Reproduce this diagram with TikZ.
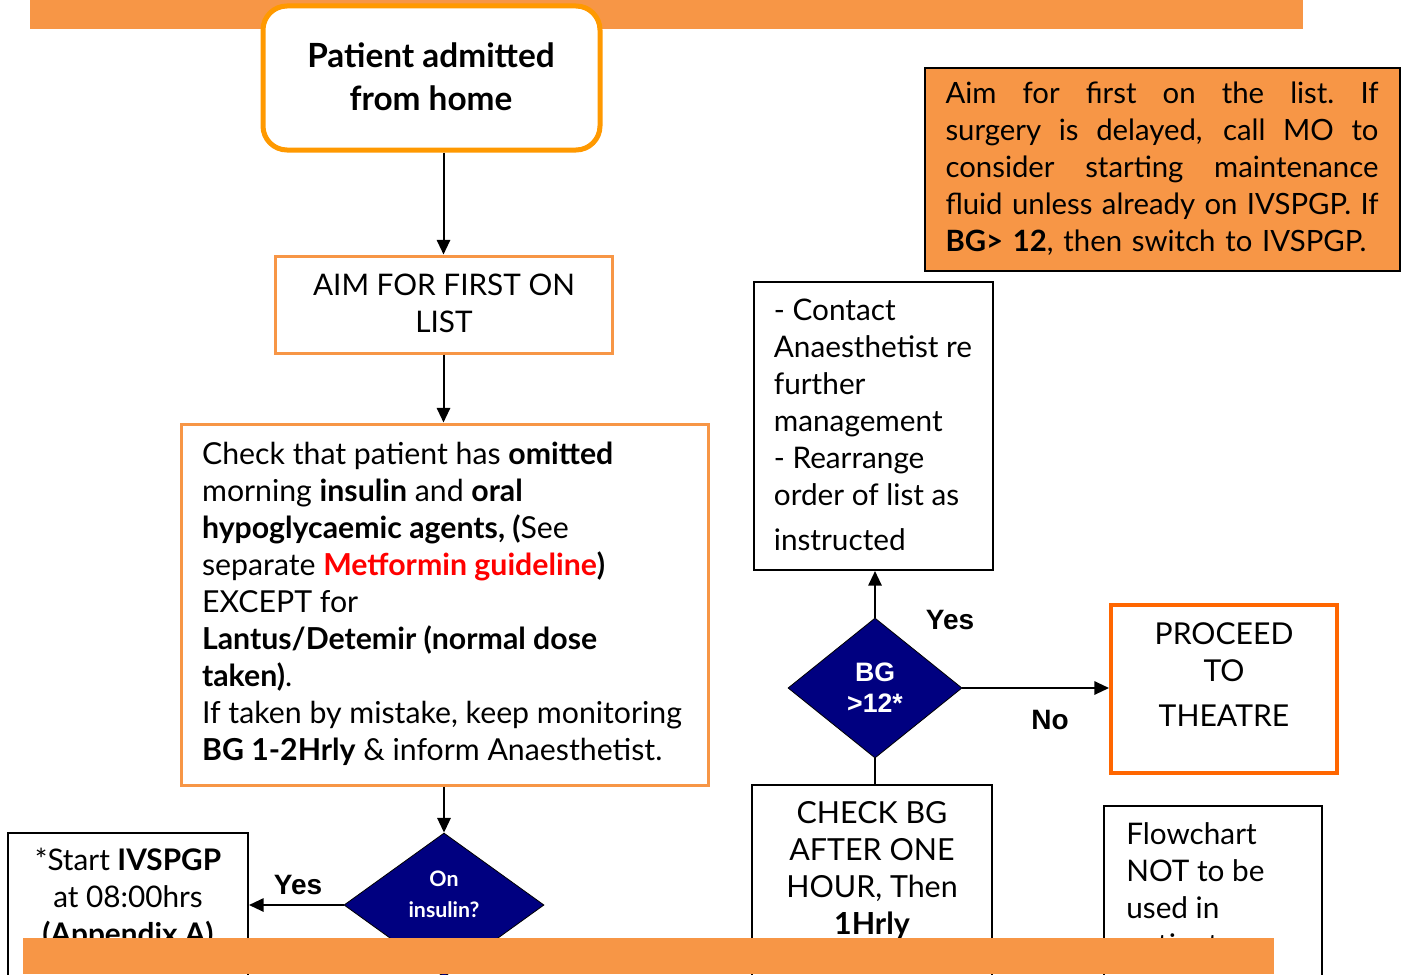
\documentclass[tikz,border=0pt]{standalone}
\usepackage{fontspec}
\setmainfont{Lato}
\newfontfamily\arialfont{Liberation Sans}
\usetikzlibrary{arrows.meta,shapes.geometric,fit}
\definecolor{barorange}{HTML}{F79646}
\definecolor{startorange}{HTML}{FF9900}
\definecolor{theatreorange}{HTML}{FF6600}
\definecolor{navyfill}{HTML}{000080}
\definecolor{metred}{HTML}{FF0000}
\newcommand{\jline}[1]{\hbox to 324.75pt{\spaceskip=0.22em plus 1fil\relax\xspaceskip=\spaceskip #1}}
\begin{document}
\begin{tikzpicture}[x=0.75pt,y=-0.75pt,
  txt/.style={font=\fontsize{22.3}{27.75}\selectfont, text=black, inner sep=0pt},
  obox/.style={draw=barorange, line width=2.25pt, fill=white, inner sep=0pt},
  kbox/.style={draw=black, line width=1.5pt, fill=white, inner sep=0pt},
  dia/.style={diamond, fill=navyfill, draw=black, line width=0.6pt, inner sep=0pt},
  diatxt/.style={text=white, align=center, inner sep=0pt},
  arr/.style={line width=1.5pt, -{Triangle[length=11pt,width=10pt]}},
  conn/.style={line width=1.5pt},
  lbl/.style={font=\arialfont\bfseries\fontsize{21}{25}\selectfont, inner sep=0pt},
  bar/.style={fill=barorange, draw=none}]
\useasboundingbox (0,0) rectangle (1408,974);
\clip (0,0) rectangle (1408,974);
\fill[white] (0,0) rectangle (1408,974);
% top bar
\fill[bar] (30,0) rectangle (1303,29);

% start box
\node[draw=startorange, line width=3.75pt, rounded corners=18pt, fill=white, inner sep=0pt,
  fit={(263,6)(600,150)}] (start) {};
\node[txt, align=center, font=\bfseries\fontsize{25}{32.25}\selectfont] (starttxt) at (431,77)
  {Patient admitted\\from home};

% aim box
\node[obox, fit={(275,256)(612,353)}] (aim) {};
\node[txt, align=center] (aimtxt) at (444,303) {AIM FOR FIRST ON\\LIST};

% check box
\node[obox, fit={(181,424)(708,785)}] (check) {};
\node[txt, align=left, font=\fontsize{22.7}{27.75}\selectfont] (checktxt) at (442,604)
 {Check that patient has \textbf{omitted}\\
  morning \textbf{insulin} and \textbf{oral}\\
  \textbf{hypoglycaemic agents, (}See\\
  separate \textcolor{metred}{\textbf{Metformin guideline}}\textbf{)}\\
  EXCEPT for\\
  \textbf{Lantus/Detemir (normal dose}\\
  \textbf{taken)}.\\
  If taken by mistake, keep monitoring\\
  \textbf{BG 1-2Hrly} \& inform Anaesthetist.};

% on insulin diamond
\node[dia, minimum width=150pt, minimum height=108pt] (insulin) at (444,905) {};
\node[diatxt, font=\bfseries\fontsize{16}{23}\selectfont] (insulintxt) at (444,894) {On\\insulin?};

% left box
\node[kbox, fit={(8,833)(248,1010)}] (leftbox) {};
\node[txt, align=center, anchor=north] (lefttxt) at (128,848)
 {*Start \textbf{IVSPGP}\\at 08:00hrs\\\textbf{(Appendix A)}};

% orange note
\node[draw=black, line width=1.5pt, fill=barorange, inner sep=0pt, fit={(925,68)(1400,271)}] (note) {};
\node[txt, font=\fontsize{22}{27.75}\selectfont, text width=324.75pt, align=left] (notetxt) at (1162,169)
 {\jline{Aim for first on the list. If}
  \jline{surgery is delayed, call MO to}
  \jline{consider starting maintenance}
  \jline{fluid unless already on IVSPGP. If}
  \hbox{\textbf{BG> 12}, then switch to IVSPGP.}};

% contact box
\node[kbox, fit={(754,282)(993,570)}] (contact) {};
\node[txt, align=left] (contacttxt) at (873,425)
 {- Contact\\Anaesthetist re\\further\\management\\- Rearrange\\order of list as\\[6pt]instructed};

% BG diamond
\node[dia, minimum width=130.5pt, minimum height=105pt] (bg) at (875,688) {};
\node[diatxt, font=\arialfont\bfseries\fontsize{20}{23}\selectfont] (bgtxt) at (875,688) {BG\\>12*};

% theatre box
\node[draw=theatreorange, line width=3pt, fill=white, inner sep=0pt, fit={(1111,605)(1337,773)}] (theatre) {};
\node[txt, align=center, anchor=north, font=\fontsize{22.6}{27.75}\selectfont] (theatretxt) at (1224,622)
 {PROCEED\\TO\\[6pt]THEATRE};

% check BG box
\node[kbox, fit={(752,785)(992,1010)}] (checkbg) {};
\node[txt, align=center, anchor=north, font=\fontsize{22.8}{27.75}\selectfont] (checkbgtxt) at (872,801)
 {CHECK BG\\AFTER ONE\\HOUR, Then\\\textbf{1Hrly}};

% flowchart note
\node[kbox, fit={(1104,806)(1322,1010)}] (flow) {};
\node[txt, align=left, anchor=north west] (flowtxt) at (1126,822)
 {Flowchart\\NOT to be\\used in\\patient};

% connectors
\draw[arr] (aim.north |- start.south) -- (aim.north);
\draw[arr] (aim.south) -- (aim.south |- check.north);
\draw[arr] (insulin.north |- check.south) -- (insulin.north);
\draw[arr] (insulin.west) -- (insulin.west -| leftbox.east);
\draw[arr] (bg.north) -- (bg.north |- contact.south);
\draw[arr] (bg.east) -- (bg.east -| theatre.west);
\draw[conn] (bg.south) -- (bg.south |- checkbg.north);

% labels
\node[lbl] (yes1) at (298,885) {Yes};
\node[lbl] (yes2) at (950,620) {Yes};
\node[lbl] (no1) at (1050,720) {No};

% bottom bar
\fill[bar] (23,938) rectangle (1274,974);
\end{tikzpicture}
\end{document}
